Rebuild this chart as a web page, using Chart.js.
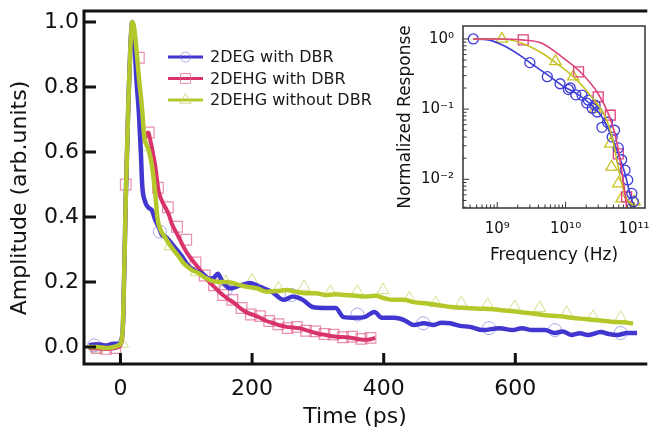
<!DOCTYPE html>
<html><head><meta charset="utf-8">
<script src="https://cdn.jsdelivr.net/npm/chart.js@4.4.1/dist/chart.umd.min.js"></script>
<style>
html,body{margin:0;padding:0;background:#fff;}
#wrap{position:relative;width:654px;height:434px;overflow:hidden;}
#main{position:absolute;left:0;top:0;}
#inset{position:absolute;left:385px;top:0;}
</style></head><body>
<div id="wrap"><canvas id="main" width="654" height="434"></canvas><canvas id="inset" width="269" height="275"></canvas></div>
<script>
// ---------- DATA ----------
const seriesNames = ['2DEG with DBR', '2DEHG with DBR', '2DEHG without DBR'];

// Main panel: time (ps) vs amplitude (arb. units)
const blueT = [-48,-35,-22,-10,-3,1,4,8,12,15,18,21,24,28,31,33,37,42,48,53,58,63,68,73,83,93,103,113,125,135,142,148,155,167,182,197,212,230,248,262,277,292,312,327,339,357,371,386,397,416,431,446,461,476,488,501,516,531,551,576,596,610,625,645,660,672,685,698,710,730,742,755,770,785];
const blueA = [0.005,0.008,0.004,0.01,0.01,0.02,0.08,0.45,0.75,0.92,1.0,0.95,0.83,0.72,0.6,0.5,0.45,0.43,0.42,0.39,0.37,0.345,0.34,0.33,0.305,0.28,0.25,0.235,0.225,0.21,0.213,0.225,0.2,0.18,0.19,0.197,0.185,0.17,0.145,0.155,0.145,0.123,0.12,0.12,0.092,0.09,0.092,0.108,0.09,0.09,0.083,0.068,0.073,0.068,0.075,0.073,0.065,0.062,0.052,0.058,0.052,0.058,0.052,0.052,0.043,0.048,0.037,0.042,0.037,0.046,0.04,0.037,0.043,0.043];

const pinkT = [-48,-35,-22,-10,-3,1,4,8,12,15,18,21,25,30,35,38,42,46,50,53,58,63,68,73,78,88,98,108,118,133,145,152,162,173,183,193,203,212,222,233,242,252,262,272,282,292,302,312,322,331,342,352,362,372,380,387];
const pinkA = [-0.003,-0.005,-0.006,-0.004,0.0,0.01,0.07,0.45,0.75,0.92,1.0,0.97,0.88,0.74,0.64,0.645,0.66,0.63,0.59,0.555,0.48,0.45,0.43,0.41,0.38,0.34,0.30,0.27,0.245,0.205,0.18,0.166,0.15,0.135,0.118,0.105,0.098,0.09,0.08,0.073,0.067,0.062,0.06,0.058,0.052,0.046,0.04,0.037,0.033,0.031,0.03,0.028,0.024,0.022,0.024,0.028];

const greenT = [-48,-35,-22,-10,-3,1,4,8,12,15,18,21,25,28,33,36,40,43,48,53,56,61,67,73,80,88,95,103,110,118,127,137,150,163,178,193,208,222,237,252,267,282,297,312,327,342,357,372,387,401,416,431,446,466,486,506,526,546,566,586,606,626,646,666,686,706,726,746,764,779];
const greenA = [0.0,0.0,-0.003,0.0,0.005,0.015,0.08,0.45,0.75,0.92,1.0,0.98,0.9,0.83,0.73,0.65,0.62,0.605,0.555,0.47,0.4,0.36,0.34,0.32,0.30,0.28,0.26,0.245,0.235,0.228,0.215,0.205,0.2,0.2,0.192,0.185,0.18,0.17,0.172,0.175,0.17,0.165,0.165,0.16,0.162,0.16,0.158,0.155,0.158,0.15,0.145,0.145,0.138,0.134,0.128,0.122,0.12,0.118,0.116,0.112,0.108,0.103,0.098,0.095,0.09,0.086,0.082,0.078,0.076,0.072];

// Main panel markers (measured points)
const blueCircT = [-40,60,160,260,360,460,560,660,760];
const blueCircA = [0.005,0.355,0.175,0.16,0.1,0.073,0.058,0.052,0.043];
const pinkSqT = [-36,-22,-8,8,28,43,57,72,86,100,114,128,142,156,170,184,198,212,226,240,254,268,282,296,310,324,338,352,366,380];
const pinkSqA = [-0.003,-0.006,-0.003,0.5,0.89,0.66,0.49,0.43,0.37,0.33,0.26,0.22,0.19,0.16,0.145,0.12,0.1,0.095,0.08,0.07,0.058,0.062,0.05,0.048,0.04,0.038,0.03,0.032,0.025,0.028];
const greenTriT = [-37,3,36,75,115,160,200,240,279,319,360,399,439,479,518,558,599,637,678,718,760];
const greenTriA = [-0.005,0.01,0.615,0.31,0.23,0.2,0.205,0.18,0.185,0.17,0.17,0.175,0.15,0.135,0.135,0.13,0.123,0.12,0.105,0.093,0.09];

// Main panel ticks
const xTickValues = [0, 200, 400, 600];
const yTickValues = [0.0, 0.2, 0.4, 0.6, 0.8, 1.0];
const yTickLabels = ['0.0', '0.2', '0.4', '0.6', '0.8', '1.0'];

// Inset: frequency (Hz) vs normalized response
const insetBlueLineF = [4.47e8,7.4e8,1.32e9,2.29e9,3.0e9,5.4e9,8.7e9,1.55e10,2.4e10,3.4e10,4.5e10,5.9e10,7.4e10,8.7e10,9.8e10];
const insetBlueLineR = [1.0,0.97,0.78,0.56,0.46,0.31,0.22,0.16,0.114,0.078,0.045,0.023,0.012,0.0063,0.0043];
const insetPinkLineF = [4.47e8,1.05e9,2.29e9,4.5e9,8.7e9,1.74e10,2.95e10,4.2e10,5.2e10,5.9e10,6.6e10,7.4e10,7.8e10];
const insetPinkLineR = [1.0,1.0,0.97,0.87,0.56,0.32,0.17,0.087,0.046,0.026,0.0135,0.0063,0.004];
const insetGreenLineF = [4.47e8,1.17e9,2.29e9,4.5e9,7.8e9,1.38e10,2.4e10,3.8e10,4.8e10,5.6e10,6.6e10,8.1e10,1.0e11];
const insetGreenLineR = [1.0,1.0,0.87,0.63,0.43,0.275,0.15,0.078,0.04,0.019,0.0088,0.005,0.0043];

const insetBlueF = [4.47e8,3.0e9,5.4e9,8.3e9,1.1e10,1.17e10,1.41e10,1.74e10,2.04e10,2.15e10,2.45e10,2.7e10,2.9e10,3.4e10,4.1e10,4.8e10,5.2e10,5.9e10,6.6e10,7.4e10,8.1e10,9.3e10,9.8e10];
const insetBlueR = [1.0,0.46,0.29,0.23,0.19,0.2,0.16,0.158,0.122,0.134,0.103,0.114,0.091,0.055,0.065,0.04,0.05,0.028,0.019,0.0135,0.0098,0.0063,0.0048];
const insetPinkF = [2.4e9,1.55e10,3.0e10,4.5e10,5.9e10,7.8e10];
const insetPinkR = [0.97,0.34,0.15,0.082,0.023,0.0056];
const insetGreenF = [1.17e9,7.1e9,1.29e10,2.7e10,4.5e10,4.7e10,5.9e10,6.6e10,1.02e11];
const insetGreenR = [1.0,0.48,0.29,0.10,0.032,0.015,0.0087,0.0053,0.0048];

const insetXTickValues = [1e9, 1e10, 1e11];
const insetXTickLabels = ['10\u2079', '10\u00B9\u2070', '10\u00B9\u00B9'];
const insetYTickValues = [1, 0.1, 0.01];
const insetYTickLabels = ['10\u2070', '10\u207B\u00B9', '10\u207B\u00B2'];

// ---------- STYLE ----------
const FONT = "'DejaVu Sans', sans-serif";
const BLUE = '#4136d0', PINK = '#d8336b', GREEN = '#b4c82c';
const BLUE_M = 'rgba(110,110,220,0.6)', PINK_M = 'rgba(226,105,150,0.75)', GREEN_M = 'rgba(200,214,110,0.8)';
const I_BLUE = '#3c3cd8', I_PINK = '#e0407c', I_GREEN = '#c6c222';

const pts = (xs, ys) => xs.map((x, i) => ({x: x, y: ys[i]}));

function markerPath(ctx, style, x, y, r) {
  ctx.beginPath();
  if (style === 'circle') { ctx.arc(x, y, r, 0, Math.PI * 2); }
  else if (style === 'rect') { const s = r * Math.SQRT1_2; ctx.rect(x - s, y - s, 2 * s, 2 * s); }
  else { for (let k = 0; k < 3; k++) { const a = k * 2 * Math.PI / 3; const px = x + Math.sin(a) * r, py = y - Math.cos(a) * r; k ? ctx.lineTo(px, py) : ctx.moveTo(px, py); } ctx.closePath(); }
}

const mainDecor = {
  id: 'mainDecor',
  afterDatasetsDraw(chart) {
    const {ctx, chartArea: a, scales: {x, y}} = chart;
    ctx.save();
    ctx.strokeStyle = '#111'; ctx.lineWidth = 3; ctx.lineCap = 'butt';
    ctx.beginPath();
    ctx.moveTo(a.right + 2, a.top); ctx.lineTo(a.left, a.top); ctx.lineTo(a.left, a.bottom); ctx.lineTo(a.right + 2, a.bottom);
    ctx.stroke();
    ctx.beginPath();
    x.ticks.forEach(t => { const px = x.getPixelForValue(t.value); ctx.moveTo(px, a.bottom); ctx.lineTo(px, a.bottom - 11); });
    y.ticks.forEach(t => { const py = y.getPixelForValue(t.value); ctx.moveTo(a.left, py); ctx.lineTo(a.left + 12, py); });
    ctx.stroke();
    // legend
    const items = [
      {name: seriesNames[0], line: BLUE, mk: BLUE_M, style: 'circle', r: 5},
      {name: seriesNames[1], line: PINK, mk: PINK_M, style: 'rect', r: 7},
      {name: seriesNames[2], line: GREEN, mk: GREEN_M, style: 'triangle', r: 6.5}
    ];
    ctx.font = '16px ' + FONT; ctx.textBaseline = 'middle'; ctx.textAlign = 'left';
    items.forEach((it, i) => {
      const yy = 57 + i * 21.5;
      ctx.strokeStyle = it.line; ctx.lineWidth = 3;
      ctx.beginPath(); ctx.moveTo(168, yy); ctx.lineTo(203, yy); ctx.stroke();
      ctx.strokeStyle = it.mk; ctx.lineWidth = 1;
      markerPath(ctx, it.style, 185.5, yy, it.r); ctx.stroke();
      ctx.fillStyle = '#1a1a1a';
      ctx.fillText(it.name, 210, yy + 1);
    });
    // axis titles
    ctx.fillStyle = '#111'; ctx.font = '22px ' + FONT; ctx.textAlign = 'center';
    ctx.fillText('Time (ps)', 355, 417);
    ctx.translate(20, 198); ctx.rotate(-Math.PI / 2);
    ctx.fillText('Amplitude (arb.units)', 0, 0);
    ctx.restore();
  }
};

new Chart(document.getElementById('main'), {
  type: 'line',
  data: {
    datasets: [
      {label: seriesNames[2], data: pts(greenT, greenA), borderColor: GREEN, borderWidth: 4.5, pointRadius: 0, cubicInterpolationMode: 'monotone', order: 0},
      {label: seriesNames[0], data: pts(blueT, blueA), borderColor: BLUE, borderWidth: 4.5, pointRadius: 0, cubicInterpolationMode: 'monotone', order: 1},
      {label: seriesNames[1], data: pts(pinkT, pinkA), borderColor: PINK, borderWidth: 4, pointRadius: 0, cubicInterpolationMode: 'monotone', order: 2},
      {label: 'c', data: pts(blueCircT, blueCircA), showLine: false, pointStyle: 'circle', pointRadius: 6.5, pointBorderWidth: 1, pointBorderColor: BLUE_M, pointBackgroundColor: 'rgba(0,0,0,0)', order: 3},
      {label: 's', data: pts(pinkSqT, pinkSqA), showLine: false, pointStyle: 'rect', pointRadius: 7.5, pointBorderWidth: 1.2, pointBorderColor: PINK_M, pointBackgroundColor: 'rgba(0,0,0,0)', order: 3},
      {label: 't', data: pts(greenTriT, greenTriA), showLine: false, pointStyle: 'triangle', pointRadius: 7, pointBorderWidth: 1, pointBorderColor: GREEN_M, pointBackgroundColor: 'rgba(0,0,0,0)', order: 3}
    ]
  },
  options: {
    responsive: false, animation: false, devicePixelRatio: 1,
    layout: {padding: {top: 11, right: 0, left: 0, bottom: 0}},
    plugins: {legend: {display: false}, tooltip: {enabled: false}},
    scales: {
      x: {
        type: 'linear', min: -55.4, max: 797.5,
        afterBuildTicks: s => { s.ticks = xTickValues.map(v => ({value: v})); },
        ticks: {callback: v => String(v), font: {family: FONT, size: 22}, color: '#111', padding: 12, maxRotation: 0, autoSkip: false},
        grid: {display: false, drawTicks: false}, border: {display: false},
        afterFit: s => { s.height = 70; s.paddingLeft = 0; s.paddingRight = 0; }
      },
      y: {
        type: 'linear', min: -0.0523, max: 1.0338,
        afterBuildTicks: s => { s.ticks = yTickValues.map(v => ({value: v})); },
        ticks: {callback: (v, i) => yTickLabels[i], font: {family: FONT, size: 22}, color: '#111', padding: 5, autoSkip: false},
        grid: {display: false, drawTicks: false}, border: {display: false},
        afterFit: s => { s.width = 84; s.paddingTop = 0; s.paddingBottom = 0; }
      }
    }
  },
  plugins: [mainDecor]
});

// ---------- INSET ----------
function logTicks(s) {
  const out = [];
  for (let e = Math.floor(Math.log10(s.min)); e <= Math.ceil(Math.log10(s.max)); e++) {
    for (let m = 1; m <= 9; m++) {
      const v = m * Math.pow(10, e);
      if (v >= s.min * 0.999 && v <= s.max * 1.001) out.push({value: v, major: m === 1});
    }
  }
  s.ticks = out;
}
function labelFrom(values, labels) {
  return v => { for (let i = 0; i < values.length; i++) { if (Math.abs(Math.log10(v) - Math.log10(values[i])) < 1e-6) return labels[i]; } return ''; };
}

const insetDecor = {
  id: 'insetDecor',
  afterDatasetsDraw(chart) {
    const {ctx, chartArea: a, scales: {x, y}} = chart;
    ctx.save();
    ctx.strokeStyle = '#333'; ctx.lineWidth = 1.5;
    ctx.strokeRect(a.left, a.top, a.right - a.left, a.bottom - a.top);
    ctx.lineWidth = 1;
    ctx.beginPath();
    x.ticks.forEach(t => { const px = x.getPixelForValue(t.value); const L = t.major ? 6 : 3.5; ctx.moveTo(px, a.bottom); ctx.lineTo(px, a.bottom - L); });
    y.ticks.forEach(t => { const py = y.getPixelForValue(t.value); const L = t.major ? 6 : 3.5; ctx.moveTo(a.left, py); ctx.lineTo(a.left + L, py); });
    ctx.stroke();
    ctx.restore();
  }
};

new Chart(document.getElementById('inset'), {
  type: 'line',
  data: {
    datasets: [
      {data: pts(insetPinkLineF, insetPinkLineR), borderColor: I_PINK, borderWidth: 1.6, pointRadius: 0, cubicInterpolationMode: 'monotone'},
      {data: pts(insetGreenLineF, insetGreenLineR), borderColor: I_GREEN, borderWidth: 1.6, pointRadius: 0, cubicInterpolationMode: 'monotone'},
      {data: pts(insetBlueLineF, insetBlueLineR), borderColor: I_BLUE, borderWidth: 1.6, pointRadius: 0, cubicInterpolationMode: 'monotone'},
      {data: pts(insetBlueF, insetBlueR), showLine: false, pointStyle: 'circle', pointRadius: 5, pointBorderWidth: 1.3, pointBorderColor: I_BLUE, pointBackgroundColor: 'rgba(0,0,0,0)'},
      {data: pts(insetPinkF, insetPinkR), showLine: false, pointStyle: 'rect', pointRadius: 7, pointBorderWidth: 1.3, pointBorderColor: I_PINK, pointBackgroundColor: 'rgba(0,0,0,0)'},
      {data: pts(insetGreenF, insetGreenR), showLine: false, pointStyle: 'triangle', pointRadius: 6.5, pointBorderWidth: 1.3, pointBorderColor: I_GREEN, pointBackgroundColor: 'rgba(0,0,0,0)'}
    ]
  },
  options: {
    responsive: false, animation: false, devicePixelRatio: 1,
    layout: {padding: {top: 26, right: 9, left: 0, bottom: 0}},
    plugins: {legend: {display: false}, tooltip: {enabled: false}},
    scales: {
      x: {
        type: 'logarithmic', min: 3.16e8, max: 1.45e11,
        afterBuildTicks: logTicks,
        ticks: {callback: labelFrom(insetXTickValues, insetXTickLabels), font: {family: FONT, size: 15}, color: '#111', padding: 12, maxRotation: 0, autoSkip: false},
        grid: {display: false, drawTicks: false}, border: {display: false},
        title: {display: true, text: 'Frequency (Hz)', font: {family: FONT, size: 17}, color: '#111', padding: {top: 0, bottom: 9}},
        afterFit: s => { s.height = 67; s.paddingLeft = 0; s.paddingRight = 0; }
      },
      y: {
        type: 'logarithmic', min: 0.0039, max: 1.53,
        afterBuildTicks: logTicks,
        ticks: {callback: labelFrom(insetYTickValues, insetYTickLabels), font: {family: FONT, size: 15}, color: '#111', padding: 9, autoSkip: false},
        grid: {display: false, drawTicks: false}, border: {display: false},
        title: {display: true, text: 'Normalized Response', font: {family: FONT, size: 17}, color: '#111', padding: {top: 10, bottom: 0}},
        afterFit: s => { s.width = 78; s.paddingTop = 0; s.paddingBottom = 0; }
      }
    }
  },
  plugins: [insetDecor]
});
</script>
</body></html>
